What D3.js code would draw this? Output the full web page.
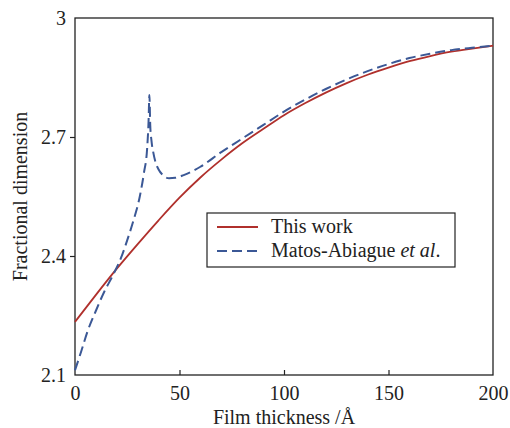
<!DOCTYPE html>
<html><head><meta charset="utf-8">
<script src="https://cdn.jsdelivr.net/npm/d3@7"></script>
<style>body{margin:0;background:#fff}svg{display:block}text{font-family:"Liberation Serif","Times New Roman",Times,"Nimbus Roman","DejaVu Serif",serif;fill:#222}</style>
</head><body>
<script>
const redX = [0,10,20,30,40,50,60,70,80,90,100,110,120,130,140,150,160,170,180,190,200];
const redY = [2.234,2.302,2.368,2.430,2.490,2.547,2.598,2.643,2.684,2.720,2.755,2.785,2.812,2.836,2.857,2.875,2.891,2.904,2.915,2.923,2.930];
const blueX = [0,3,6,10,14,18,22,25,28,31,33,34.5,35.2,35.6,36.0,36.6,37.5,38.5,40,42,45,48,52,60,70,80,90,100,110,120,130,140,150,160,170,180,190,200];
const blueY = [2.112,2.160,2.210,2.262,2.310,2.350,2.395,2.440,2.490,2.550,2.610,2.670,2.740,2.806,2.730,2.690,2.660,2.637,2.618,2.604,2.596,2.597,2.604,2.625,2.662,2.696,2.730,2.764,2.794,2.821,2.845,2.866,2.884,2.899,2.910,2.919,2.925,2.930];
const xTicks = [0,50,100,150,200];
const yTicks = [2.1,2.4,2.7,3];
const seriesNames = ["This work","Matos-Abiague "];
const FONT = '"Liberation Serif","Times New Roman",Times,"Nimbus Roman","DejaVu Serif",serif';

const W=510,H=428, L=75,R=493,T=18,B=375;
const svg=d3.select("body").append("svg").attr("width",W).attr("height",H);
const x=d3.scaleLinear().domain([0,200]).range([L,R]);
const y=d3.scaleLinear().domain([2.1,3]).range([B,T]);

const xa=svg.append("g").attr("transform",`translate(0,${B})`)
  .call(d3.axisBottom(x).tickValues(xTicks).tickSize(-5).tickPadding(11).tickFormat(d3.format("d")));
const ya=svg.append("g").attr("transform",`translate(${L},0)`)
  .call(d3.axisLeft(y).tickValues(yTicks).tickSize(5).tickPadding(4).tickFormat(d=>d===3?"3":d3.format(".1f")(d)));
[xa,ya].forEach(g=>{g.attr("font-family",FONT);g.select(".domain").remove();g.selectAll("line").attr("stroke","#222").attr("stroke-width",1.2);
  g.selectAll("text").style("font-family",FONT).style("font-size","20px").attr("fill","#222");});
ya.selectAll(".tick").filter(d=>d===3||d===2.1).select("line").remove();
xa.selectAll(".tick").filter(d=>d===0||d===200).select("line").remove();

svg.append("rect").attr("x",L).attr("y",T).attr("width",R-L).attr("height",B-T)
  .attr("fill","none").attr("stroke","#222").attr("stroke-width",1.3);

const line=d3.line().x(d=>x(d[0])).y(d=>y(d[1])).curve(d3.curveMonotoneX);
const red=redX.map((v,i)=>[v,redY[i]]);
const blue=blueX.map((v,i)=>[v,blueY[i]]);
svg.append("path").datum(red).attr("d",line).attr("fill","none").attr("stroke","#b0302c").attr("stroke-width",1.8);
svg.append("path").datum(blue).attr("d",line).attr("fill","none").attr("stroke","#3b5896").attr("stroke-width",2).attr("stroke-dasharray","10,5");

// legend
const lg=svg.append("g");
lg.append("rect").attr("x",207).attr("y",213).attr("width",248).attr("height",54).attr("fill","#fff").attr("stroke","#222").attr("stroke-width",1.2);
lg.append("line").attr("x1",217).attr("x2",258).attr("y1",227).attr("y2",227).attr("stroke","#b0302c").attr("stroke-width",1.8);
lg.append("line").attr("x1",217).attr("x2",258).attr("y1",251).attr("y2",251).attr("stroke","#3b5896").attr("stroke-width",2).attr("stroke-dasharray","10,5");
lg.append("text").attr("x",271).attr("y",233).style("font-family",FONT).style("font-size","20px").text(seriesNames[0]);
const t2=lg.append("text").attr("x",271).attr("y",257).style("font-family",FONT).style("font-size","20px");
t2.append("tspan").text(seriesNames[1]);
t2.append("tspan").style("font-style","italic").text("et al");
t2.append("tspan").text(".");

svg.append("text").attr("x",(L+R)/2).attr("y",424).attr("text-anchor","middle").style("font-family",FONT).style("font-size","20px").text("Film thickness /Å");
svg.append("text").attr("transform",`translate(27,${(T+B)/2}) rotate(-90)`).attr("text-anchor","middle").style("font-family",FONT).style("font-size","20px").text("Fractional dimension");
</script>
</body></html>
